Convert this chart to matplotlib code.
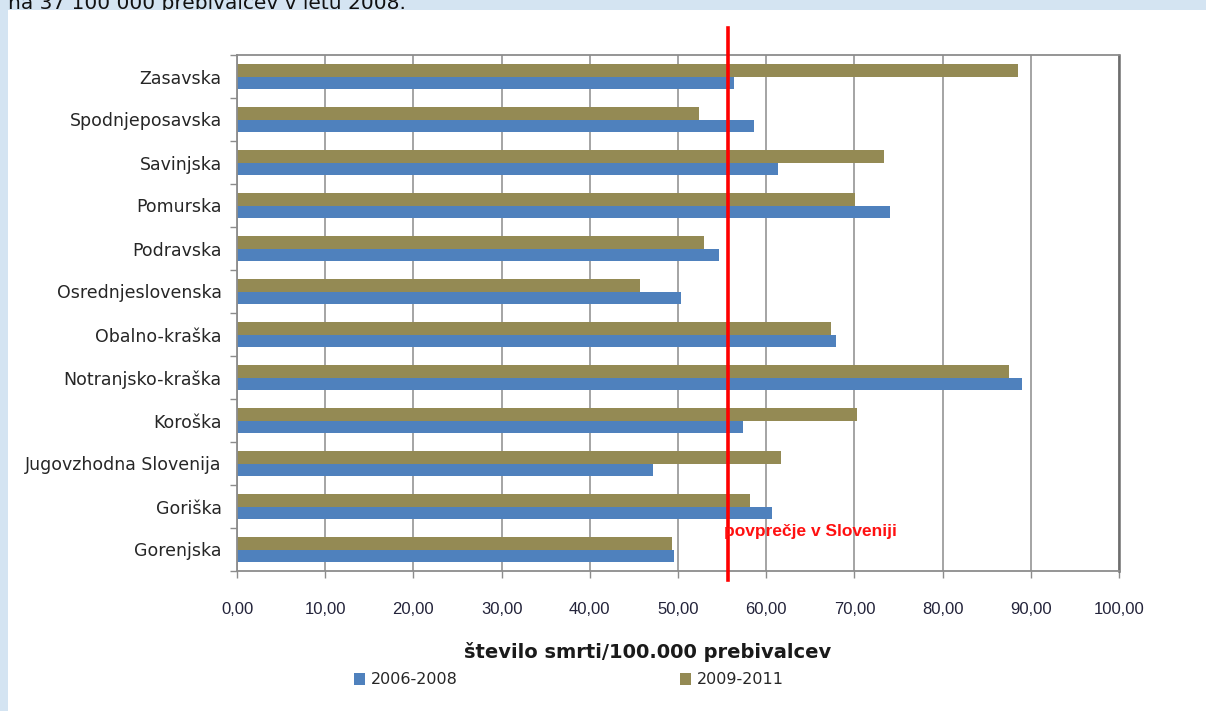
import matplotlib
matplotlib.use("Agg")
import matplotlib.pyplot as plt
from matplotlib.patches import Rectangle, Patch

# regije (od spodaj navzgor) in stopnje umrljivosti
regije = ["Gorenjska", "Goriška", "Jugovzhodna Slovenija", "Koroška",
          "Notranjsko-kraška", "Obalno-kraška", "Osrednjeslovenska",
          "Podravska", "Pomurska", "Savinjska", "Spodnjeposavska", "Zasavska"]
obdobje_1 = [49.6, 60.7, 47.2, 57.4, 89.0, 67.9, 50.3, 54.6, 74.0, 61.3, 58.6, 56.3]
obdobje_2 = [49.3, 58.2, 61.7, 70.3, 87.5, 67.3, 45.7, 53.0, 70.1, 73.4, 52.4, 88.5]
oznake = ["2006-2008", "2009-2011"]
povprecje = 55.7
x_ticks = [0, 10, 20, 30, 40, 50, 60, 70, 80, 90, 100]

MODRA = "#4F81BD"
OLIVNA = "#948A54"

fig = plt.figure(figsize=(12.06, 7.11), dpi=100)
fig.patch.set_facecolor("#d4e4f2")

# naslov nad sliko (zgornji del sega čez rob) in bela podlaga
fig.text(8 / 1206, 1 - 9 / 711, "na 37 100 000 prebivalcev v letu 2008.",
         fontsize=14.5, color="#111111", ha="left", va="baseline", zorder=-2)
fig.patches.append(Rectangle((8 / 1206, 0), 1, 1 - 10 / 711,
                             transform=fig.transFigure, facecolor="white",
                             edgecolor="none", zorder=-1))

ax = fig.add_axes([237 / 1206, 1 - 571 / 711, 882 / 1206, 516 / 711])

y = list(range(len(regije)))
h = 0.29
ax.barh([v - h / 2 for v in y], obdobje_1, height=h, color=MODRA, zorder=2)
ax.barh([v + h / 2 for v in y], obdobje_2, height=h, color=OLIVNA, zorder=2)

ax.set_xlim(0, 100)
ax.set_ylim(-0.5, len(regije) - 0.5)

# navpične mrežne črte
ax.set_xticks(x_ticks)
ax.set_xticklabels([f"{t:.2f}".replace(".", ",") for t in x_ticks],
                   family=["Liberation Sans", "DejaVu Sans"], fontsize=12,
                   color="#23233a")
ax.xaxis.grid(True, color="#8c8c8c", linewidth=1.1, zorder=1)
ax.set_axisbelow(True)
ax.tick_params(axis="x", direction="out", length=5, width=1, color="#8c8c8c", pad=17)

# kategorije z oznakami med njimi
ax.set_yticks(y)
ax.set_yticklabels(regije, fontsize=12.5, color="#262626")
ax.set_yticks([v - 0.5 for v in range(len(regije) + 1)], minor=True)
ax.tick_params(axis="y", which="major", length=0, pad=11)
ax.tick_params(axis="y", which="minor", direction="out", length=5, width=1,
               color="#8c8c8c")

for s in ax.spines.values():
    s.set_color("#8c8c8c")
    s.set_linewidth(1.3)
ax.spines["right"].set_color("#6e6e6e")
ax.spines["right"].set_linewidth(1.8)

# slovensko povprečje
ax.plot([povprecje, povprecje], [-0.71, 12.13], color="#ff0000", linewidth=2.6,
        clip_on=False, zorder=5)
ax.text(povprecje - 0.45, 0.41, "povprečje v Sloveniji", color="#ff1010",
        family=["Liberation Sans", "DejaVu Sans"], fontweight="bold",
        fontsize=12.5, ha="left", va="center", zorder=6)

fig.text(648 / 1206, 1 - 652 / 711, "število smrti/100.000 prebivalcev",
         fontsize=14, fontweight="bold", color="#1a1a1a", ha="center", va="center")

handles = [Patch(facecolor=MODRA), Patch(facecolor=OLIVNA)]
fig.legend(handles, oznake, loc="center left",
           bbox_to_anchor=(354 / 1206, 1 - 680 / 711), ncol=2, frameon=False,
           fontsize=11.5, handlelength=0.7, handleheight=0.7, handletextpad=0.35,
           columnspacing=13.9, borderpad=0, borderaxespad=0,
           labelcolor="#262626")

fig.savefig("out.png", dpi=100, facecolor=fig.get_facecolor())
